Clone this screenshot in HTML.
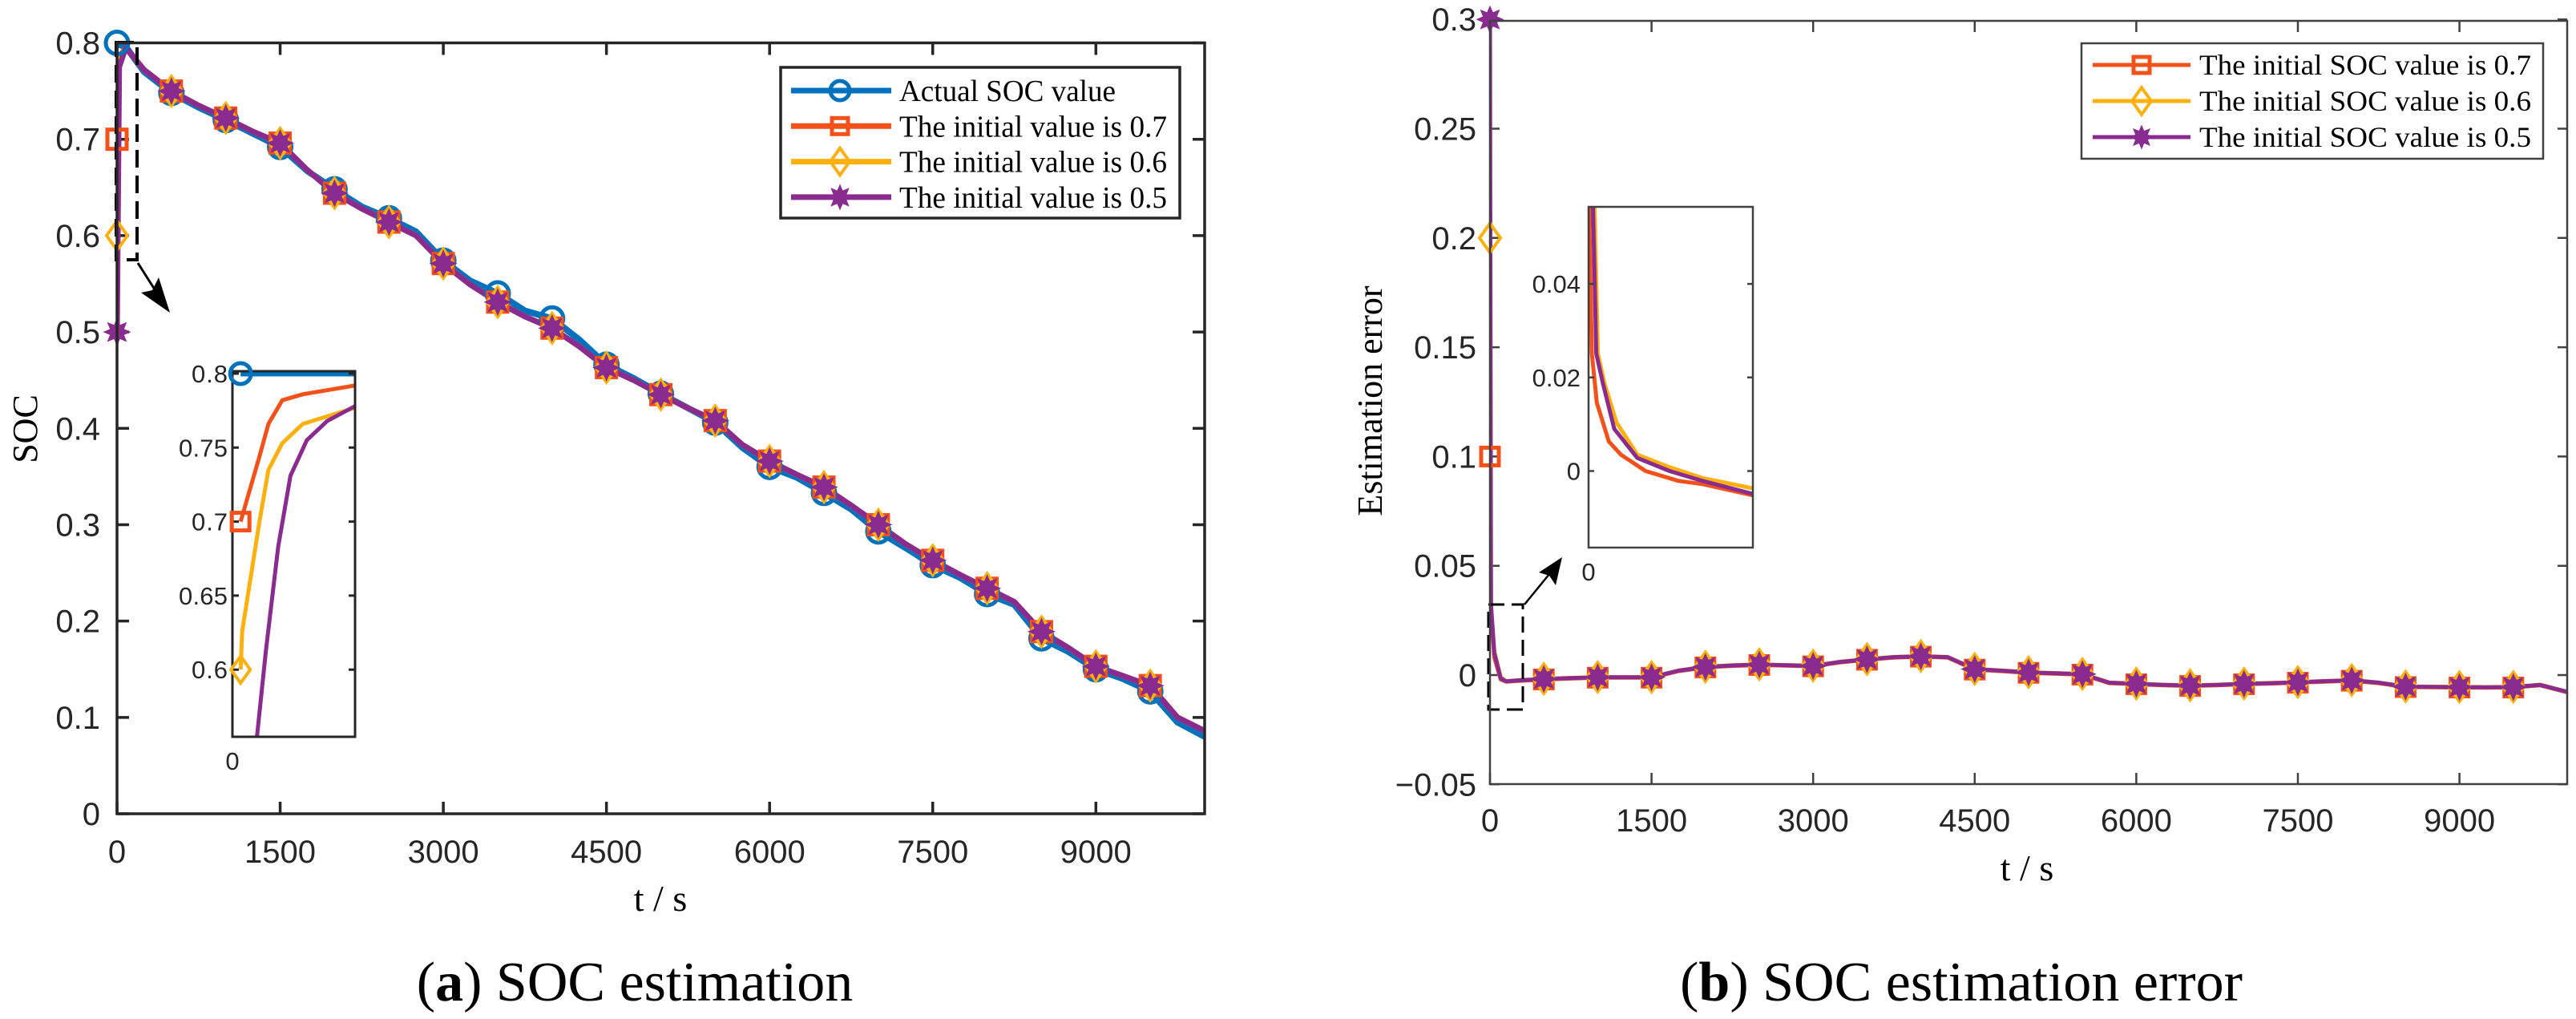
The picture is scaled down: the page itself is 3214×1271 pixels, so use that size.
<!DOCTYPE html>
<html><head><meta charset="utf-8"><style>
html,body{margin:0;padding:0;background:#fff;}
svg{display:block;}
.tk{font-family:"Liberation Sans",Arial,sans-serif;fill:#262626;}
.sf{font-family:"Liberation Serif","Times New Roman",serif;fill:#000;}
</style></head><body>
<svg id="chart" xmlns="http://www.w3.org/2000/svg" width="3214" height="1271" viewBox="0 0 3214 1271">
<defs>
<clipPath id="clipA"><rect x="146" y="40" width="1357" height="975"/></clipPath>
<clipPath id="clipIA"><rect x="290" y="463" width="153" height="456"/></clipPath>
<clipPath id="clipB"><rect x="1859" y="10" width="1344" height="968"/></clipPath>
<clipPath id="clipIB"><rect x="1982" y="258" width="205" height="425"/></clipPath>
</defs>
</svg>
<script>
// ---------- data: left panel (SOC estimation) ----------
const socTimes = [250,500,750,1000,1250,1500,1750,2000,2250,2500,2750,3000,3250,3500,3750,4000,4250,4500,4750,5000,5250,5500,5750,6000,6250,6500,6750,7000,7250,7500,7750,8000,8250,8500,8750,9000,9250,9500,9750,10000];
const actualSoc = [0.770,0.748,0.733,0.720,0.706,0.692,0.667,0.648,0.630,0.618,0.604,0.574,0.553,0.540,0.522,0.514,0.492,0.466,0.452,0.436,0.421,0.406,0.380,0.360,0.349,0.333,0.316,0.293,0.276,0.258,0.245,0.228,0.217,0.182,0.168,0.150,0.140,0.127,0.095,0.080];
const estSoc = [0.772,0.750,0.735,0.722,0.708,0.696,0.668,0.644,0.628,0.614,0.600,0.571,0.549,0.531,0.516,0.504,0.485,0.463,0.450,0.435,0.421,0.408,0.383,0.366,0.352,0.339,0.320,0.300,0.280,0.263,0.248,0.234,0.220,0.189,0.172,0.153,0.143,0.133,0.100,0.086];
const startTimes = [0,20,80];
const startActual = [0.800,0.798,0.796];
const start07 = [0.70,0.785,0.795];
const start06 = [0.60,0.78,0.795];
const start05 = [0.50,0.775,0.795];
const yTicksA = [0,0.1,0.2,0.3,0.4,0.5,0.6,0.7,0.8];
const yTickLabelsA = ["0","0.1","0.2","0.3","0.4","0.5","0.6","0.7","0.8"];
const xTicks = [0,1500,3000,4500,6000,7500,9000];
const xTickLabels = ["0","1500","3000","4500","6000","7500","9000"];
// inset A
const insetT07 = [10,33,44,61,86,150];
const insetV07 = [0.700,0.744,0.766,0.782,0.786,0.792];
const insetT06 = [10,12,33,44,61,86,150];
const insetV06 = [0.600,0.626,0.700,0.735,0.753,0.766,0.777];
const insetT05 = [30,41,56,71,91,116,150];
const insetV05 = [0.5545,0.613,0.683,0.731,0.755,0.768,0.778];
const insetYTicksA = [0.6,0.65,0.7,0.75,0.8];
const insetYLabelsA = ["0.6","0.65","0.7","0.75","0.8"];
// ---------- data: right panel (error) ----------
const errTimes = [250,500,750,1000,1250,1500,1750,2000,2250,2500,2750,3000,3250,3500,3750,4000,4250,4500,4750,5000,5250,5500,5750,6000,6250,6500,6750,7000,7250,7500,7750,8000,8250,8500,8750,9000,9250,9500,9750,10000];
const err07 = [-0.0027,-0.0020,-0.0016,-0.0012,-0.0012,-0.0012,0.0018,0.0035,0.0042,0.0046,0.0043,0.0040,0.0058,0.0070,0.0080,0.0084,0.0080,0.0025,0.0018,0.0010,0.0006,0.0002,-0.0037,-0.0042,-0.0047,-0.0050,-0.0047,-0.0042,-0.0039,-0.0035,-0.0030,-0.0026,-0.0037,-0.0055,-0.0056,-0.0057,-0.0058,-0.0057,-0.0047,-0.0079];
const err06 = [-0.0024,-0.0017,-0.0013,-0.0009,-0.0009,-0.0009,0.0021,0.0038,0.0045,0.0049,0.0046,0.0043,0.0061,0.0073,0.0083,0.0087,0.0083,0.0028,0.0021,0.0013,0.0009,0.0005,-0.0034,-0.0039,-0.0044,-0.0047,-0.0044,-0.0039,-0.0036,-0.0032,-0.0027,-0.0023,-0.0034,-0.0052,-0.0053,-0.0054,-0.0055,-0.0054,-0.0044,-0.0076];
const err05 = [-0.0025,-0.0018,-0.0014,-0.0010,-0.0010,-0.0010,0.0020,0.0037,0.0044,0.0048,0.0045,0.0042,0.0060,0.0072,0.0082,0.0086,0.0082,0.0027,0.0020,0.0012,0.0008,0.0004,-0.0035,-0.0040,-0.0045,-0.0048,-0.0045,-0.0040,-0.0037,-0.0033,-0.0028,-0.0024,-0.0035,-0.0053,-0.0054,-0.0055,-0.0056,-0.0055,-0.0045,-0.0077];
const errStartTimes = [0,10,40,100,150];
const errStart07 = [0.1,0.03,0.008,-0.002,-0.003];
const errStart06 = [0.2,0.032,0.011,-0.001,-0.0028];
const errStart05 = [0.3,0.032,0.010,-0.0015,-0.0029];
const yTicksB = [-0.05,0,0.05,0.1,0.15,0.2,0.25,0.3];
const yTickLabelsB = ["\u22120.05","0","0.05","0.1","0.15","0.2","0.25","0.3"];
const insetTB07 = [1,6,15,37,59,104,164,208,300];
const insetVB07 = [0.0565,0.0251,0.0146,0.0063,0.0035,0,-0.0021,-0.0028,-0.0052];
const insetTB06 = [11,17,29,51,89,148,208,300];
const insetVB06 = [0.0565,0.0251,0.0188,0.0104,0.0035,0.0008,-0.0015,-0.0037];
const insetTB05 = [8,14,26,47,89,148,208,300];
const insetVB05 = [0.0565,0.0251,0.0188,0.009,0.0028,0,-0.0021,-0.0049];
const insetYTicksB = [0,0.02,0.04];
const insetYLabelsB = ["0","0.02","0.04"];

const C_BLUE="#0072BD", C_ORANGE="#F4511A", C_YELLOW="#FDB00E", C_PURPLE="#8A2B90";
const NS="http://www.w3.org/2000/svg";
const svg=document.getElementById('chart');
function mk(tag,attrs,parent){const e=document.createElementNS(NS,tag);for(const k in attrs)e.setAttribute(k,attrs[k]);(parent||svg).appendChild(e);return e;}
function txt(str,attrs,parent){const e=mk('text',attrs,parent);e.textContent=str;return e;}
// scales
const xA=t=>146+t/10000*1357, yA=v=>1015-v/0.8*961.5;
const xIA=t=>290+t/150*153, yIA=v=>466+(0.8-v)/0.05*92.3;
const xB=t=>1859+t/10000*1344, yB=v=>842-v/0.05*136.3;
const xIB=t=>1982+t/300*205, yIB=v=>587.5-v/0.02*116.7;
function pathD(ts,vs,fx,fy){return ts.map((t,i)=>(i?'L':'M')+fx(t).toFixed(1)+' '+fy(vs[i]).toFixed(1)).join(' ');}
function marker(type,cx,cy,color,size,parent){
  let e;
  if(type==='circle') e=mk('circle',{cx:cx,cy:cy,r:size,fill:'none',stroke:color,'stroke-width':5},parent);
  else if(type==='square') e=mk('rect',{x:cx-size,y:cy-size,width:2*size,height:2*size,fill:'none',stroke:color,'stroke-width':5},parent);
  else if(type==='diamond') e=mk('path',{d:`M${cx} ${cy-size*1.4}L${cx+size} ${cy}L${cx} ${cy+size*1.4}L${cx-size} ${cy}Z`,fill:'none',stroke:color,'stroke-width':4},parent);
  else {let d='';for(let k=0;k<16;k++){const r=k%2?size*0.55:size;const a=k*Math.PI/8;d+=(k?'L':'M')+(cx+r*Math.sin(a)).toFixed(1)+' '+(cy-r*Math.cos(a)).toFixed(1);}e=mk('path',{d:d+'Z',fill:color,stroke:color,'stroke-width':2},parent);}
  return e;
}
function axesBox(x0,y0,x1,y1,sw,col,name){
  const r=mk('rect',{x:x0,y:y0,width:x1-x0,height:y1-y0,fill:'none',stroke:col,'stroke-width':sw});
  
  
}

// ================= LEFT PANEL =================
const gA=mk('g',{});


axesBox(146,53.5,1503,1015,3.5,'#262626','left-plot-frame');
yTicksA.forEach((v,i)=>{
  const y=yA(v);
  const t1=mk('path',{d:`M146 ${y}H161 M1503 ${y}H1488`,stroke:'#262626','stroke-width':3.5},gA);
  
  
  const l=txt(yTickLabelsA[i],{x:125,y:y+14,'text-anchor':'end','font-size':40,class:'tk'},gA);
  
  
});
xTicks.forEach((t,i)=>{
  const x=xA(t);
  const t1=mk('path',{d:`M${x} 1015V1000 M${x} 53.5V68.5`,stroke:'#262626','stroke-width':3.5},gA);
  
  
  const l=txt(xTickLabels[i],{x:x,y:1076,'text-anchor':'middle','font-size':40,class:'tk'},gA);
  
  
});
const gAS=mk('g',{'clip-path':'url(#clipA)'},gA);
const seriesA=[
 {name:'actual-soc',col:C_BLUE,st:startActual,tail:actualSoc,mk:'circle',sz:14,w:8},
 {name:'initial-0.7',col:C_ORANGE,st:start07,tail:estSoc,mk:'square',sz:12,w:7},
 {name:'initial-0.6',col:C_YELLOW,st:start06,tail:estSoc,mk:'diamond',sz:13,w:7},
 {name:'initial-0.5',col:C_PURPLE,st:start05,tail:estSoc,mk:'star',sz:15,w:7}];
seriesA.forEach(s=>{
  const ts=startTimes.concat(socTimes), vs=s.st.concat(s.tail);
  const p=mk('path',{d:pathD(ts,vs,xA,yA),fill:'none',stroke:s.col,'stroke-width':s.w,'stroke-linejoin':'round'},gAS);
  
  
});
seriesA.forEach(s=>{
  const m0=marker(s.mk,xA(0),yA(s.st[0]),s.col,s.sz,gA);
  
  
  socTimes.forEach((t,i)=>{ if(t%500===0 && t<10000){
    const m=marker(s.mk,xA(t),yA(s.tail[i]),s.col,s.sz,gAS);
    
    
  }});
});
// dashed zoom box + arrow
const dzA=mk('rect',{x:145,y:53,width:26,height:271,fill:'none',stroke:'#000','stroke-width':4,'stroke-dasharray':'22 10'},gA);


const arA=mk('path',{d:'M172 328L200 372',stroke:'#000','stroke-width':3,fill:'none'},gA);


const ahA=mk('path',{d:'M212 390L176 365L190 362L198 346Z',fill:'#000'},gA);


// inset A
const gIA=mk('g',{},gA);


mk('rect',{x:290,y:463,width:153,height:456,fill:'#fff'},gIA);
const gIAS=mk('g',{'clip-path':'url(#clipIA)'},gIA);
[[insetT07,insetV07,C_ORANGE,'inset-initial-0.7'],[insetT06,insetV06,C_YELLOW,'inset-initial-0.6'],[insetT05,insetV05,C_PURPLE,'inset-initial-0.5']].forEach(a=>{
  const p=mk('path',{d:pathD(a[0],a[1],xIA,yIA),fill:'none',stroke:a[2],'stroke-width':5,'stroke-linejoin':'round'},gIAS);
  
  
});
const ib=mk('path',{d:`M${xIA(10)} ${yIA(0.8)}H443`,stroke:C_BLUE,'stroke-width':7},gIAS);


const ibx=mk('rect',{x:290,y:463,width:153,height:456,fill:'none',stroke:'#262626','stroke-width':3},gIA);


insetYTicksA.forEach((v,i)=>{
  const y=yIA(v);
  const t1=mk('path',{d:`M290 ${y}H298 M443 ${y}H435`,stroke:'#262626','stroke-width':3},gIA);
  
  
  const l=txt(insetYLabelsA[i],{x:284,y:y+11,'text-anchor':'end','font-size':31,class:'tk',textLength:insetYLabelsA[i].length>3?61:45},gIA);
  
  
});
const ix0=txt('0',{x:290,y:960,'text-anchor':'middle','font-size':31,class:'tk'},gIA);


[['circle',xIA(10),yIA(0.8),C_BLUE,13],['square',xIA(10),yIA(0.7),C_ORANGE,11],['diamond',xIA(10),yIA(0.6),C_YELLOW,12]].forEach(a=>{
  const m=marker(a[0],a[1],a[2],a[3],a[4],gIA);
  
  
});
// legend A
const gLA=mk('g',{},gA);


mk('rect',{x:974,y:84,width:498,height:188,fill:'#fff',stroke:'#262626','stroke-width':3.5},gLA);
const legA=[['Actual SOC value',C_BLUE,'circle',12,270],['The initial value is 0.7',C_ORANGE,'square',10,334],['The initial value is 0.6',C_YELLOW,'diamond',12,334],['The initial value is 0.5',C_PURPLE,'star',14,334]];
legA.forEach((L,i)=>{
  const y=113+i*44.3;
  const ln=mk('path',{d:`M987 ${y}H1112`,stroke:L[1],'stroke-width':7},gLA);
  
  
  const m=marker(L[2],1048,y,L[1],L[3],gLA);
  
  
  const t=txt(L[0],{x:1122,y:y+13,'font-size':38,class:'sf',textLength:L[4],lengthAdjust:'spacingAndGlyphs'},gLA);
  
  
});
const ylA=txt('SOC',{x:0,y:0,'font-size':44,class:'sf','text-anchor':'middle',fill:'#404040',transform:'translate(46 535) rotate(-90)'},gA);


const xlA=txt('t / s',{x:824,y:1136,'font-size':46,class:'sf','text-anchor':'middle',fill:'#404040'},gA);


const capA=mk('text',{x:792,y:1248,'font-size':70,class:'sf','text-anchor':'middle'},gA);
capA.innerHTML='(<tspan font-weight="bold">a</tspan>) SOC estimation';



// ================= RIGHT PANEL =================
const gB=mk('g',{});


axesBox(1859,26,3203,978,2.5,'#404040','right-plot-frame');
yTicksB.forEach((v,i)=>{
  const y=yB(v);
  const t1=mk('path',{d:`M1859 ${y}H1871 M3203 ${y}H3191`,stroke:'#404040','stroke-width':2.5},gB);
  
  
  const l=txt(yTickLabelsB[i],{x:1842,y:y+14,'text-anchor':'end','font-size':40,class:'tk'},gB);
  
  
});
xTicks.forEach((t,i)=>{
  const x=xB(t);
  const t1=mk('path',{d:`M${x} 978V964 M${x} 26V40`,stroke:'#404040','stroke-width':2.5},gB);
  
  
  const l=txt(xTickLabels[i],{x:x,y:1037,'text-anchor':'middle','font-size':40,class:'tk'},gB);
  
  
});
const gBS=mk('g',{'clip-path':'url(#clipB)'},gB);
const seriesB=[
 {name:'error-initial-0.7',col:C_ORANGE,st:errStart07,tail:err07,mk:'square',sz:11},
 {name:'error-initial-0.6',col:C_YELLOW,st:errStart06,tail:err06,mk:'diamond',sz:13},
 {name:'error-initial-0.5',col:C_PURPLE,st:errStart05,tail:err05,mk:'star',sz:15}];
seriesB.forEach(s=>{
  const ts=errStartTimes.concat(errTimes), vs=s.st.concat(s.tail);
  const p=mk('path',{d:pathD(ts,vs,xB,yB),fill:'none',stroke:s.col,'stroke-width':5,'stroke-linejoin':'round'},gBS);
  
  
});
seriesB.forEach(s=>{
  const m0=marker(s.mk,xB(0),yB(s.st[0]),s.col,s.sz,gB);
  
  
  errTimes.forEach((t,i)=>{ if(t%500===0 && t<10000){
    const m=marker(s.mk,xB(t),yB(s.tail[i]),s.col,s.sz,gBS);
    
    
  }});
});
const dzB=mk('rect',{x:1857,y:754,width:43,height:131,fill:'none',stroke:'#000','stroke-width':3,'stroke-dasharray':'20 9'},gB);


const arB=mk('path',{d:'M1902 754L1938 710',stroke:'#000','stroke-width':2.5,fill:'none'},gB);


const ahB=mk('path',{d:'M1949 695L1941 730L1933 718L1920 714Z',fill:'#000'},gB);


// inset B
const gIB=mk('g',{},gB);


mk('rect',{x:1982,y:258,width:205,height:425,fill:'#fff'},gIB);
const gIBS=mk('g',{'clip-path':'url(#clipIB)'},gIB);
[[insetTB06,insetVB06,C_YELLOW,'inset-error-0.6'],[insetTB07,insetVB07,C_ORANGE,'inset-error-0.7'],[insetTB05,insetVB05,C_PURPLE,'inset-error-0.5']].forEach(a=>{
  const p=mk('path',{d:pathD(a[0],a[1],xIB,yIB),fill:'none',stroke:a[2],'stroke-width':5,'stroke-linejoin':'round'},gIBS);
  
  
});
const ibxB=mk('rect',{x:1982,y:258,width:205,height:425,fill:'none',stroke:'#404040','stroke-width':2.5},gIB);


insetYTicksB.forEach((v,i)=>{
  const y=yIB(v);
  const t1=mk('path',{d:`M1982 ${y}H1989 M2187 ${y}H2180`,stroke:'#404040','stroke-width':2.5},gIB);
  
  
  const l=txt(insetYLabelsB[i],{x:1972,y:y+11,'text-anchor':'end','font-size':31,class:'tk'},gIB);
  
  
});
const ix0B=txt('0',{x:1982,y:724,'text-anchor':'middle','font-size':31,class:'tk'},gIB);


// legend B
const gLB=mk('g',{},gB);


mk('rect',{x:2597,y:54,width:576,height:144,fill:'#fff',stroke:'#404040','stroke-width':2.5},gLB);
const legB=[['The initial SOC value is 0.7',C_ORANGE,'square',10],['The initial SOC value is 0.6',C_YELLOW,'diamond',12],['The initial SOC value is 0.5',C_PURPLE,'star',13]];
legB.forEach((L,i)=>{
  const y=81+i*45;
  const ln=mk('path',{d:`M2611 ${y}H2733`,stroke:L[1],'stroke-width':5},gLB);
  
  
  const m=marker(L[2],2672,y,L[1],L[3],gLB);
  
  
  const t=txt(L[0],{x:2744,y:y+12,'font-size':36,class:'sf',textLength:414,lengthAdjust:'spacingAndGlyphs'},gLB);
  
  
});
const ylB=txt('Estimation error',{x:0,y:0,'font-size':44,class:'sf','text-anchor':'middle',fill:'#303030',transform:'translate(1724 500) rotate(-90)'},gB);


const xlB=txt('t / s',{x:2529,y:1098,'font-size':46,class:'sf','text-anchor':'middle',fill:'#303030'},gB);


const capB=mk('text',{x:2447,y:1248,'font-size':70,class:'sf','text-anchor':'middle'},gB);
capB.innerHTML='(<tspan font-weight="bold">b</tspan>) SOC estimation error';


</script>
</body></html>
